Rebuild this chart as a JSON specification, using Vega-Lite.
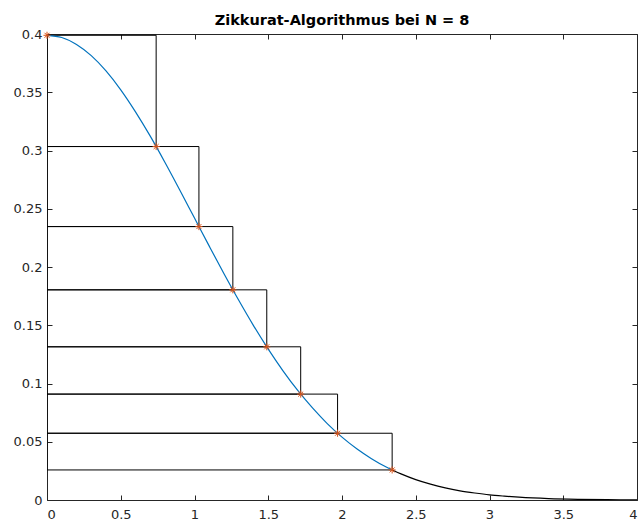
{
  "$schema": "https://vega.github.io/schema/vega-lite/v6.json",
  "autosize": {"type": "none"},
  "width": 590,
  "height": 466,
  "padding": {"left": 47, "top": 34, "right": 4, "bottom": 21},
  "title": {
    "text": "Zikkurat-Algorithmus bei N = 8",
    "font": "DejaVu Sans",
    "fontSize": 14.5,
    "fontWeight": "bold",
    "color": "#000000",
    "anchor": "middle",
    "baseline": "alphabetic",
    "offset": -11
  },
  "config": {
    "view": {"stroke": "#262626", "strokeWidth": 1},
    "axis": {
      "grid": false,
      "domain": false,
      "labelFont": "DejaVu Sans",
      "labelFontSize": 13,
      "labelColor": "#262626",
      "ticks": true,
      "tickColor": "#262626",
      "tickSize": 5,
      "tickWidth": 1,
      "tickOpacity": 1,
      "zindex": 1
    }
  },
  "datasets": {
    "curve": [
      {"x": 0.0, "y": 0.3989, "seg": "in"},
      {"x": 0.1, "y": 0.3970, "seg": "in"},
      {"x": 0.2, "y": 0.3910, "seg": "in"},
      {"x": 0.3, "y": 0.3814, "seg": "in"},
      {"x": 0.4, "y": 0.3683, "seg": "in"},
      {"x": 0.5, "y": 0.3521, "seg": "in"},
      {"x": 0.6, "y": 0.3332, "seg": "in"},
      {"x": 0.7, "y": 0.3123, "seg": "in"},
      {"x": 0.8, "y": 0.2897, "seg": "in"},
      {"x": 0.9, "y": 0.2661, "seg": "in"},
      {"x": 1.0, "y": 0.2420, "seg": "in"},
      {"x": 1.1, "y": 0.2179, "seg": "in"},
      {"x": 1.2, "y": 0.1942, "seg": "in"},
      {"x": 1.3, "y": 0.1714, "seg": "in"},
      {"x": 1.4, "y": 0.1497, "seg": "in"},
      {"x": 1.5, "y": 0.1295, "seg": "in"},
      {"x": 1.6, "y": 0.1109, "seg": "in"},
      {"x": 1.7, "y": 0.0940, "seg": "in"},
      {"x": 1.8, "y": 0.0790, "seg": "in"},
      {"x": 1.9, "y": 0.0656, "seg": "in"},
      {"x": 2.0, "y": 0.0540, "seg": "in"},
      {"x": 2.1, "y": 0.0440, "seg": "in"},
      {"x": 2.2, "y": 0.0355, "seg": "in"},
      {"x": 2.3, "y": 0.0283, "seg": "in"},
      {"x": 2.34, "y": 0.0258, "seg": "in"},
      {"x": 2.34, "y": 0.0258, "seg": "tail"},
      {"x": 2.4, "y": 0.0224, "seg": "tail"},
      {"x": 2.5, "y": 0.0175, "seg": "tail"},
      {"x": 2.6, "y": 0.0136, "seg": "tail"},
      {"x": 2.7, "y": 0.0104, "seg": "tail"},
      {"x": 2.8, "y": 0.0079, "seg": "tail"},
      {"x": 2.9, "y": 0.0060, "seg": "tail"},
      {"x": 3.0, "y": 0.0044, "seg": "tail"},
      {"x": 3.1, "y": 0.0033, "seg": "tail"},
      {"x": 3.2, "y": 0.0024, "seg": "tail"},
      {"x": 3.4, "y": 0.0012, "seg": "tail"},
      {"x": 3.6, "y": 0.0006, "seg": "tail"},
      {"x": 3.8, "y": 0.0003, "seg": "tail"},
      {"x": 4.0, "y": 0.0001, "seg": "tail"}
    ],
    "layers": [
      {"xl": 0, "xr": 0.74, "ylo": 0.3034, "yhi": 0.3989},
      {"xl": 0, "xr": 1.03, "ylo": 0.2347, "yhi": 0.3034},
      {"xl": 0, "xr": 1.26, "ylo": 0.1804, "yhi": 0.2347},
      {"xl": 0, "xr": 1.49, "ylo": 0.1315, "yhi": 0.1804},
      {"xl": 0, "xr": 1.72, "ylo": 0.0909, "yhi": 0.1315},
      {"xl": 0, "xr": 1.97, "ylo": 0.0573, "yhi": 0.0909},
      {"xl": 0, "xr": 2.34, "ylo": 0.0258, "yhi": 0.0573}
    ],
    "nodes": [
      {"x": 0.0, "y": 0.3989},
      {"x": 0.74, "y": 0.3034},
      {"x": 1.03, "y": 0.2347},
      {"x": 1.26, "y": 0.1804},
      {"x": 1.49, "y": 0.1315},
      {"x": 1.72, "y": 0.0909},
      {"x": 1.97, "y": 0.0573},
      {"x": 2.34, "y": 0.0258}
    ]
  },
  "resolve": {"axis": {"x": "independent", "y": "independent"}},
  "layer": [
    {
      "data": {"name": "layers"},
      "mark": {"type": "rect", "fillOpacity": 0, "stroke": "#000000", "strokeWidth": 1, "clip": true},
      "encoding": {
        "x": {"field": "xl", "type": "quantitative",
              "scale": {"domain": [0, 4], "nice": false},
              "axis": {"orient": "bottom", "offset": -5, "values": [0, 0.5, 1, 1.5, 2, 2.5, 3, 3.5, 4], "format": "~g", "labelPadding": 8, "title": null}},
        "x2": {"field": "xr"},
        "y": {"field": "ylo", "type": "quantitative",
              "scale": {"domain": [0, 0.4], "nice": false},
              "axis": {"orient": "left", "offset": -5, "values": [0, 0.05, 0.1, 0.15, 0.2, 0.25, 0.3, 0.35, 0.4], "format": "~g", "labelPadding": 5, "title": null}},
        "y2": {"field": "yhi"}
      }
    },
    {
      "data": {"name": "curve"},
      "mark": {"type": "line", "strokeWidth": 1.2, "interpolate": "monotone", "clip": true},
      "encoding": {
        "x": {"field": "x", "type": "quantitative",
              "axis": {"orient": "top", "offset": -5, "values": [0, 0.5, 1, 1.5, 2, 2.5, 3, 3.5, 4], "labels": false, "title": null}},
        "y": {"field": "y", "type": "quantitative",
              "axis": {"orient": "right", "offset": -5, "values": [0, 0.05, 0.1, 0.15, 0.2, 0.25, 0.3, 0.35, 0.4], "labels": false, "title": null}},
        "color": {"field": "seg", "type": "nominal",
                  "scale": {"domain": ["in", "tail"], "range": ["#0072BD", "#000000"]},
                  "legend": null}
      }
    },
    {
      "data": {"name": "nodes"},
      "mark": {
        "type": "point",
        "shape": "M-1,0L1,0M0,-1L0,1M-0.7,-0.7L0.7,0.7M-0.7,0.7L0.7,-0.7",
        "filled": false,
        "size": 50,
        "strokeWidth": 1,
        "color": "#D95319",
        "opacity": 1,
        "clip": false
      },
      "encoding": {
        "x": {"field": "x", "type": "quantitative", "axis": null},
        "y": {"field": "y", "type": "quantitative", "axis": null}
      }
    }
  ]
}
